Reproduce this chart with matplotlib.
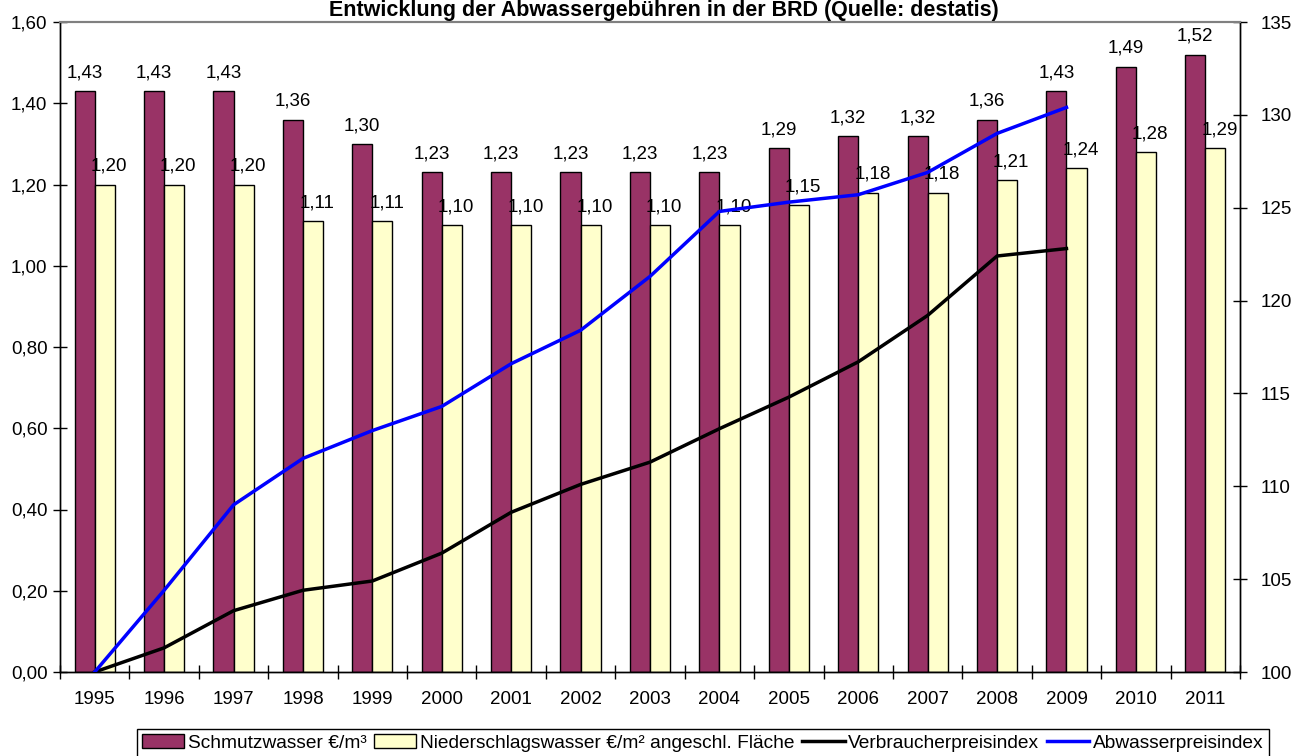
import matplotlib

matplotlib.use("Agg")
import matplotlib.pyplot as plt
import numpy as np
from matplotlib.patches import Patch
from matplotlib.lines import Line2D

plt.rcParams["font.family"] = ["Liberation Sans", "DejaVu Sans"]

years = [str(y) for y in range(1995, 2012)]
schmutzwasser = [1.43, 1.43, 1.43, 1.36, 1.30, 1.23, 1.23, 1.23, 1.23, 1.23,
                 1.29, 1.32, 1.32, 1.36, 1.43, 1.49, 1.52]
niederschlag = [1.20, 1.20, 1.20, 1.11, 1.11, 1.10, 1.10, 1.10, 1.10, 1.10,
                1.15, 1.18, 1.18, 1.21, 1.24, 1.28, 1.29]
# indices only until 2009
vpi = [100.0, 101.3, 103.3, 104.4, 104.9, 106.4, 108.6, 110.1, 111.3, 113.1,
       114.8, 116.7, 119.2, 122.4, 122.8]
abwasser_idx = [100.0, 104.4, 109.0, 111.5, 113.0, 114.3, 116.6, 118.4, 121.3,
                124.8, 125.3, 125.7, 126.9, 129.0, 130.4]
left_ticks = [0.0, 0.2, 0.4, 0.6, 0.8, 1.0, 1.2, 1.4, 1.6]
right_ticks = [100, 105, 110, 115, 120, 125, 130, 135]

MAROON = "#993366"
CREAM = "#FFFFCC"
FS = 13.5

fig = plt.figure(figsize=(13.02, 7.56), dpi=100)
ax = fig.add_axes([60 / 1302, 84 / 756, 1180 / 1302, 650 / 756])
ax2 = ax.twinx()

x = np.arange(len(years))
w = 0.29
ax.bar(x - w / 2, schmutzwasser, w, color=MAROON, edgecolor="black", linewidth=1.0, zorder=2)
ax.bar(x + w / 2, niederschlag, w, color=CREAM, edgecolor="black", linewidth=1.0, zorder=2)

for xi, v in zip(x, schmutzwasser):
    ax.annotate(f"{v:.2f}".replace(".", ","), (xi - w / 2, v), xytext=(0, 7),
                textcoords="offset points", ha="center", va="bottom", fontsize=FS)
for xi, v in zip(x, niederschlag):
    ax.annotate(f"{v:.2f}".replace(".", ","), (xi + w / 2, v), xytext=(3, 7),
                textcoords="offset points", ha="center", va="bottom", fontsize=FS)

ax.set_xlim(-0.5, len(years) - 0.5)
ax.set_ylim(0, 1.6)
ax.set_yticks(left_ticks)
ax.set_yticklabels([f"{t:.2f}".replace(".", ",") for t in left_ticks], fontsize=FS)

# category boundaries as major ticks, labels at centres via minor ticks
ax.set_xticks(np.arange(-0.5, len(years), 1.0))
ax.set_xticklabels([])
ax.set_xticks(x, minor=True)
ax.set_xticklabels(years, minor=True, fontsize=FS)
ax.tick_params(axis="x", which="major", direction="inout", length=10, width=1)
ax.tick_params(axis="x", which="minor", length=0, pad=14)
ax.tick_params(axis="y", direction="inout", length=10, width=1, pad=4)

ax2.plot(x[:len(vpi)], vpi, color="black", linewidth=2.5, zorder=3)
ax2.plot(x[:len(abwasser_idx)], abwasser_idx, color="#0000FF", linewidth=2.5, zorder=3)
ax2.set_ylim(100, 135)
ax2.set_yticks(right_ticks)
ax2.set_yticklabels([str(t) for t in right_ticks], fontsize=FS)
ax2.tick_params(axis="y", direction="inout", length=10, width=1, pad=10)

for a in (ax, ax2):
    a.spines["top"].set_color("#808080")
    a.spines["top"].set_linewidth(1.5)
    a.spines["left"].set_linewidth(1)
    a.spines["right"].set_linewidth(1)
    a.spines["bottom"].set_linewidth(1)

fig.text(664 / 1302, 1 - 16 / 756,
         "Entwicklung der Abwassergebühren in der BRD (Quelle: destatis)",
         ha="center", va="baseline", fontsize=15.5, fontweight="bold")

handles = [
    Patch(facecolor=MAROON, edgecolor="black", linewidth=1.0),
    Patch(facecolor=CREAM, edgecolor="black", linewidth=1.0),
    Line2D([], [], color="black", linewidth=2.5),
    Line2D([], [], color="#0000FF", linewidth=2.5),
]
labels = ["Schmutzwasser €/m³", "Niederschlagswasser €/m² angeschl. Fläche",
          "Verbraucherpreisindex", "Abwasserpreisindex"]
leg = fig.legend(handles, labels, ncol=4, loc="upper left",
                 bbox_to_anchor=(137 / 1302, 1 - 729 / 756), fontsize=13.8,
                 frameon=True, fancybox=False, edgecolor="black", framealpha=1,
                 handlelength=2.2, handleheight=0.8, handletextpad=0.2,
                 columnspacing=0.4, borderpad=0.25, borderaxespad=0)
leg.get_frame().set_linewidth(1)

fig.savefig("out.png", dpi=100)
